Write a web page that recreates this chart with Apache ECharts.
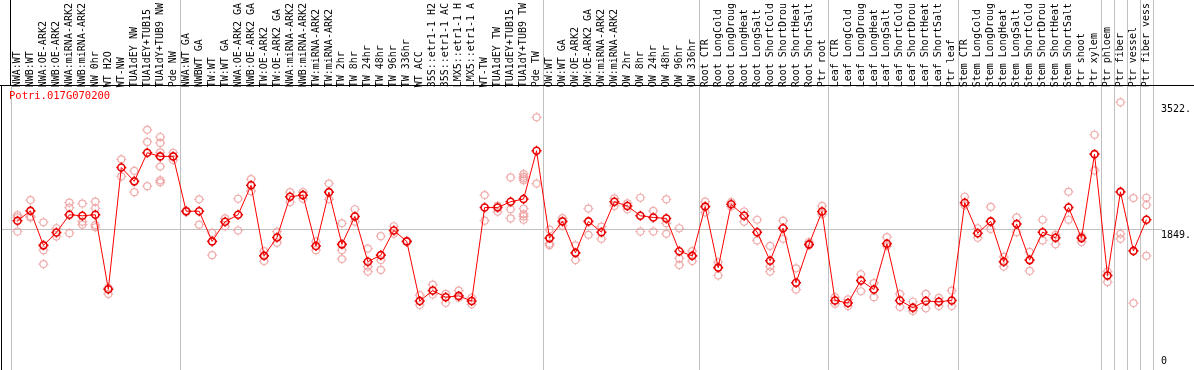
<!DOCTYPE html>
<html>
<head>
<meta charset="utf-8">
<script src="https://cdn.jsdelivr.net/npm/echarts@6/dist/echarts.min.js"></script>
<style>
html,body{margin:0;padding:0;background:#fff;}
#chart{width:1194px;height:370px;}
</style>
</head>
<body>
<div id="chart"></div>
<script>
const geneName = 'Potri.017G070200';
const categories = [
  'NWA:WT','NWB:WT','NWA:OE-ARK2','NWB:OE-ARK2','NWA:miRNA-ARK2','NWB:miRNA-ARK2','NW 0hr','WT H2O','WT-NW','TUA1dEY NW','TUA1dEY+TUB15','TUA1dY+TUB9 NW','Pde NW',
  'NWA:WT GA','NWBWT GA','TW:WT','TW:WT GA','NWA:OE-ARK2 GA','NWB:OE-ARK2 GA','TW:OE-ARK2','TW:OE-ARK2 GA','NWA:miRNA-ARK2','NWB:miRNA-ARK2','TW:miRNA-ARK2','TW:miRNA-ARK2',
  'TW 2hr','TW 8hr','TW 24hr','TW 48hr','TW 96hr','TW 336hr','WT ACC','35S::etr1-1 H2','35S::etr1-1 AC','LMX5::etr1-1 H','LMX5::etr1-1 A','WT-TW','TUA1dEY TW','TUA1dEY+TUB15','TUA1dY+TUB9 TW','Pde TW',
  'OW:WT','OW:WT GA','OW:OE-ARK2','OW:OE-ARK2 GA','OW:miRNA-ARK2','OW:miRNA-ARK2','OW 2hr','OW 8hr','OW 24hr','OW 48hr','OW 96hr','OW 336hr',
  'Root CTR','Root LongCold','Root LongDroug','Root LongHeat','Root LongSalt','Root ShortCold','Root ShortDrou','Root ShortHeat','Root ShortSalt','Ptr root',
  'Leaf CTR','Leaf LongCold','Leaf LongDroug','Leaf LongHeat','Leaf LongSalt','Leaf ShortCold','Leaf ShortDrou','Leaf ShortHeat','Leaf ShortSalt','Ptr leaf',
  'Stem CTR','Stem LongCold','Stem LongDroug','Stem LongHeat','Stem LongSalt','Stem ShortCold','Stem ShortDrou','Stem ShortHeat','Stem ShortSalt','Ptr shoot',
  'Ptr xylem','Ptr phloem','Ptr fiber','Ptr vessel','Ptr fiber vess'
];
const meanValues = [
  1964,2094,1640,1809,2042,2029,2042,1062,2664,2482,2858,2810,2810,
  2089,2089,1692,1951,2042,2430,1502,1744,2279,2301,1632,2340,
  1653,2020,1425,1511,1835,1692,907,1045,958,975,907,2137,2137,2214,2249,2884,
  1735,1955,1541,1955,1813,2214,2158,2029,2007,1994,1563,1502,
  2150,1347,2180,2029,1813,1437,1865,1148,1653,2085,
  915,881,1178,1058,1662,915,820,907,898,915,
  2201,1800,1955,1425,1921,1446,1813,1740,2137,1735,
  2840,1243,2344,1567,1977
];
const replicateValues = [
  [2037,2007,1822],[2236,2020,2007],[1943,1576,1394],[1865,1757],[2201,2137,1800],[2189,1951,1912],[2214,2128,1908,1878],[1080,1001],[2771,2547],[2620,2340],[3160,3000,2418],[3065,2987,2862,2676,2495,2469],[2858,2763],
  [2080,2098],[2245,1912],[1804,1511],[1994,1891],[2253,1835],[2512,2353],[1563,1433],[1822,1675],[2340,2210],[2340,2253],[1692,1576],[2452,2245],
  [1930,1576,1459],[2115,1951],[1597,1360,1295],[1761,1446,1317],[1891,1791],[1700,1685],[984,855],[1123,993],[1001,885],[1045,949],[949,864],[2301,1964],[2158,2081],[2534,2115,1994],[2577,2545,2520,2495,2124,2050,2020,1977],[3324,2452],
  [1848,1662,1640],[1998,1899],[1640,1446],[2124,1778],[1887,1726],[2258,2158],[2193,2115],[2266,1822],[2094,1822],[2245,1930,1791],[1865,1468,1381],[1563,1433],
  [2214,2072],[1416,1243],[2210,2150],[2085,1951],[1977,1705],[1632,1360,1295],[1964,1726],[1338,1058],[1684,1640],[2158,2050],
  [958,872],[928,842],[1260,1036],[1144,958],[1748,1630],[1001,829],[898,777],[1001,812],[949,842],[1045,842],
  [2279,2167],[1865,1740],[2146,1856],[1489,1360],[2007,1813],[1554,1304],[1977,1705],[1778,1653],[2344,1977],[1684,1760],
  [3095,2625],[1295,1157],[3522,1791,1726],[2262,881],[2266,2171,1502]
];
const yTickValues = [0, 1849, 3522];
const yTickLabels = ['0', '1849.', '3522.'];
const refLineValue = 1849;
const groupBoundaries = [0, 13, 41, 53, 63, 73, 84, 85, 86, 87, 88];

const FONT = 'DejaVu Sans Mono';
const markerPath = 'path://M5,1.5C6.933,1.5 8.5,3.067 8.5,5C8.5,6.933 6.933,8.5 5,8.5C3.067,8.5 1.5,6.933 1.5,5C1.5,3.067 3.067,1.5 5,1.5Z' +
  'M5,0L5,1.5M5,8.5L5,10M0,5L1.5,5M8.5,5L10,5';

const repData = [];
replicateValues.forEach((arr, i) => arr.forEach(v => repData.push([i, v])));

const chart = echarts.init(document.getElementById('chart'), null, {renderer: 'canvas'});
const richLbl = {
  a: {fontFamily: FONT, fontSize: 10, color: '#000', padding: [14, 0, 0, 0]},
  b: {fontFamily: FONT, fontSize: 10, color: '#000', padding: [11, 0, 0, 0]},
  c: {fontFamily: FONT, fontSize: 10, color: '#000', padding: [0, 0, 18, 0]}
};
chart.setOption({
  animation: false,
  backgroundColor: '#ffffff',
  title: {
    text: geneName, left: 9, top: 91, padding: 0,
    textStyle: {color: '#ff0000', fontFamily: FONT, fontSize: 10.5, fontWeight: 'normal'}
  },
  grid: {left: 11, right: 39, top: 98, bottom: 0},
  xAxis: {
    type: 'category', data: categories, position: 'top', offset: 13, boundaryGap: true,
    axisLine: {show: false}, axisTick: {show: false}, splitLine: {show: false},
    axisLabel: {interval: 0, rotate: 90, margin: 2, fontFamily: FONT, fontSize: 10, color: '#000'}
  },
  yAxis: {
    type: 'value', min: 0, max: 3522, position: 'right',
    axisLine: {show: false}, axisTick: {show: false}, splitLine: {show: false},
    axisLabel: {
      customValues: yTickValues, align: 'left', margin: 8,
      fontFamily: FONT, fontSize: 10, color: '#000',
      formatter: function (v) {
        const k = yTickValues.indexOf(v);
        const key = k === 2 ? 'a' : (k === 1 ? 'b' : 'c');
        return '{' + key + '|' + yTickLabels[k] + '}';
      },
      rich: richLbl
    }
  },
  series: [
    {
      type: 'scatter', data: repData, clip: false, z: 2,
      symbol: markerPath, symbolSize: 10,
      itemStyle: {color: 'rgba(255,255,255,0)', borderColor: '#ec9898', borderWidth: 1.2}
    },
    {
      type: 'line', data: meanValues, clip: false, z: 3,
      symbol: markerPath, symbolSize: 10, showAllSymbol: true,
      lineStyle: {color: '#ff0000', width: 1},
      itemStyle: {color: 'rgba(255,255,255,0)', borderColor: '#e80000', borderWidth: 1.6}
    }
  ]
});

// decorations: borders, group separators, reference line
const c0 = chart.convertToPixel({xAxisIndex: 0}, 0);
const c1 = chart.convertToPixel({xAxisIndex: 0}, 1);
const band = c1 - c0;
const yRef = chart.convertToPixel({yAxisIndex: 0}, refLineValue);
const gray = '#c0c0c0';
const elems = [];
groupBoundaries.forEach(k => {
  const x = Math.round(c0 - band / 2 + k * band) + 0.5;
  elems.push({type: 'line', z: 1, silent: true,
    shape: {x1: x, y1: k === 0 ? 85 : 0, x2: x, y2: 370},
    style: {stroke: gray, lineWidth: 1}});
});
elems.push({type: 'line', z: 1, silent: true,
  shape: {x1: 1, y1: Math.round(yRef) + 0.5, x2: 1162, y2: Math.round(yRef) + 0.5},
  style: {stroke: gray, lineWidth: 1}});
elems.push({type: 'line', z: 5, silent: true, shape: {x1: 0, y1: 85.5, x2: 1194, y2: 85.5}, style: {stroke: '#000', lineWidth: 1}});
elems.push({type: 'line', z: 5, silent: true, shape: {x1: 10.5, y1: 0, x2: 10.5, y2: 85}, style: {stroke: '#000', lineWidth: 1}});
elems.push({type: 'line', z: 5, silent: true, shape: {x1: 1.5, y1: 85, x2: 1.5, y2: 370}, style: {stroke: '#000', lineWidth: 1}});
chart.setOption({graphic: {elements: elems}});
</script>
</body>
</html>
